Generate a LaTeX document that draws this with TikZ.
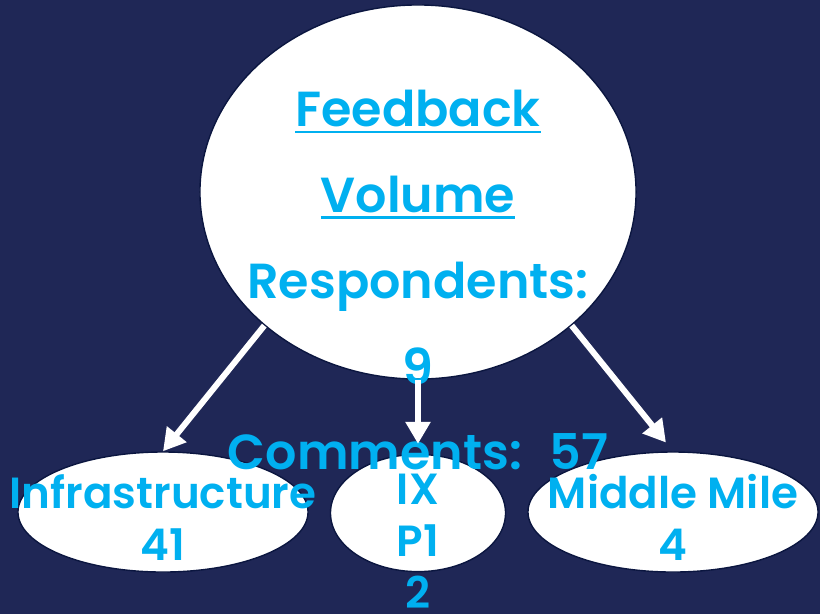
\documentclass[tikz,border=0pt]{standalone}
\usepackage{fontspec}
\setmainfont{Poppins}[BoldFont={Poppins SemiBold}]
\usepackage{xcolor}
\usetikzlibrary{arrows.meta, positioning, shapes}

\definecolor{navy}{HTML}{1F2756}
\definecolor{edgenavy}{HTML}{0B1640}
\definecolor{skyblue}{HTML}{00B0F0}

\newcommand{\headline}[1]{\leavevmode\vtop{\hbox{#1}\kern2.5pt\hrule height 1.8pt}}

\tikzset{
  bubble/.style={ellipse, draw=edgenavy, line width=1pt, fill=white, inner sep=0pt},
  bigtext/.style={text=skyblue, font=\fontsize{35}{61}\selectfont\bfseries, align=center, inner sep=0pt},
  smalltext/.style={text=skyblue, font=\fontsize{31}{37}\selectfont\bfseries, align=center, inner sep=0pt},
  link/.style={draw=white, line width=0.15cm, ->}
}

\begin{document}
\begin{tikzpicture}[x=0.025cm, y=-0.025cm, >={Triangle[length=0.55cm, width=0.6cm]}]

    % Background
    \fill [navy] (0, 0) rectangle (820, 614);
    \useasboundingbox (0, 0) rectangle (820, 614);

    % The ellipses
    \node (volume) [bubble, minimum width=10.9cm, minimum height=9.35cm] at (418, 192) {};
    \node (infra) [bubble, minimum width=7.25cm, minimum height=3cm] at (163, 512) {};
    \node (ix) [bubble, minimum width=4.375cm, minimum height=2.93cm] at (418, 513) {};
    \node (mile) [bubble, minimum width=7.25cm, minimum height=3cm] at (673, 512) {};

    % The texts
    \node (volumetext) [bigtext, anchor=north] at (418, 90)
        {\headline{Feedback}\\ \headline{Volume}\\ Respondents:\\ 9\\ Comments:~ 57};
    \node (infratext) [smalltext, anchor=north] at (163, 474) {Infrastructure\\ 41};
    \node (ixtext) [smalltext, anchor=north] at (418, 474) {IX\\ P1\\ 2};
    \node (miletext) [smalltext, anchor=north] at (673, 474) {Middle Mile\\ 4};

    % The links
    \draw [link] (volume.-139) -- (infra.north);
    \draw [link, shorten >=7pt] (volume.south) -- (ix.north);
    \draw [link, shorten >=8pt] (volume.-41) -- (mile.north);

\end{tikzpicture}
\end{document}
